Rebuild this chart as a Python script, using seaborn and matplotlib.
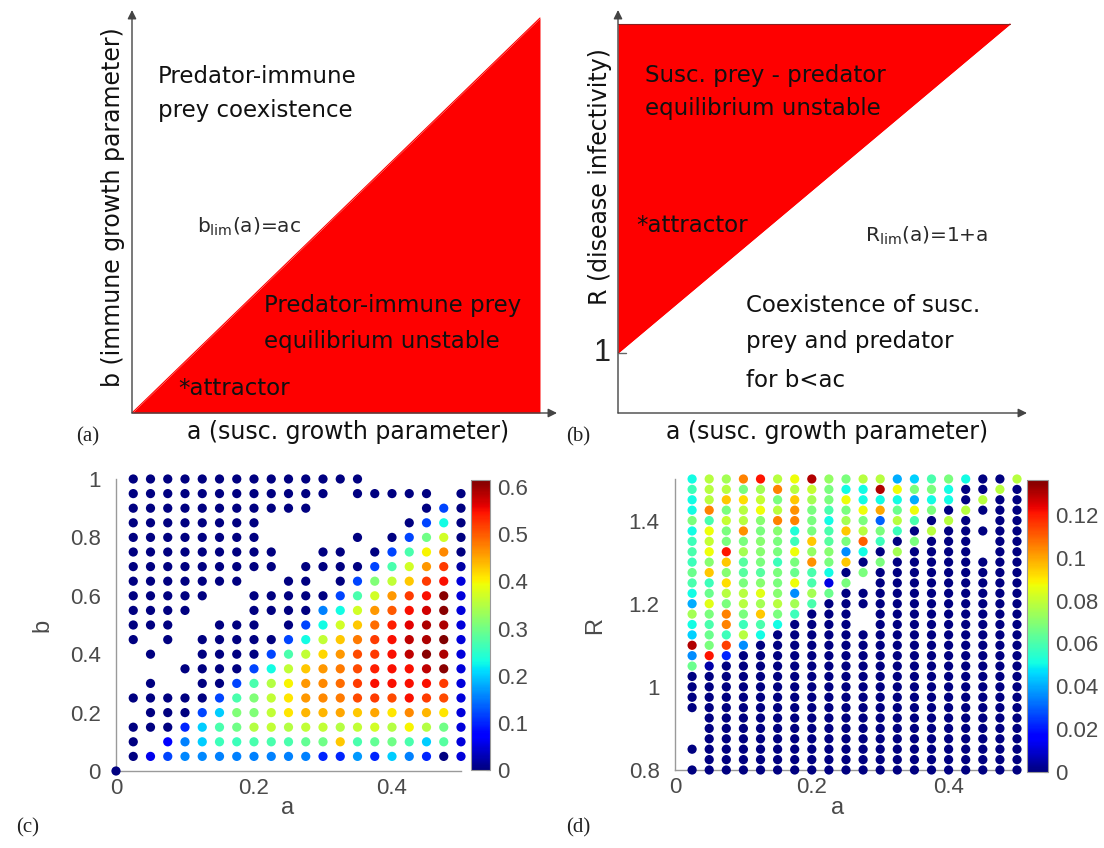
import numpy as np
import pandas as pd
import matplotlib
matplotlib.use("Agg")
import matplotlib.pyplot as plt
from matplotlib.colors import Normalize
from matplotlib.cm import ScalarMappable
from matplotlib.ticker import FuncFormatter
import seaborn as sns

_ = np.nan

# ---------------- schematic panels ----------------
# (a) stability boundary b_lim(a) = a c  (c = 1 in the sketch)
sketch_a = [0.0, 1.0]
sketch_b_lim = [0.0, 1.0]
# (b) stability boundary R_lim(a) = 1 + a, unstable region up to R = 2
sketch_R_lim = [1.0, 2.0]
sketch_R_top = [2.0, 2.0]

# ---------------- (c) immune prey density over (a, b) ----------------
scan_a = [0.025, 0.05, 0.075, 0.1, 0.125, 0.15, 0.175, 0.2, 0.225, 0.25,
          0.275, 0.3, 0.325, 0.35, 0.375, 0.4, 0.425, 0.45, 0.475, 0.5]
c_b = [1.0, 0.95, 0.9, 0.85, 0.8, 0.75, 0.7, 0.65, 0.6, 0.55,
       0.5, 0.45, 0.4, 0.35, 0.3, 0.25, 0.2, 0.15, 0.1, 0.05]
c_val = [
    [0, 0, 0, 0, 0, 0, 0, 0, 0, 0, 0, 0, 0, 0, _, _, _, _, _, _],
    [0, 0, 0, 0, 0, 0, 0, 0, 0, 0, 0, 0, _, 0, 0, 0, 0, 0, _, 0],
    [0, 0, 0, 0, 0, 0, 0, 0, 0, 0, 0, _, _, _, _, _, _, 0, .12, 0],
    [0, 0, 0, 0, 0, 0, 0, 0, _, _, _, _, _, _, _, _, 0, .12, .23, 0],
    [0, 0, 0, 0, 0, 0, 0, 0, _, _, _, _, _, 0, _, 0, .12, .30, .37, 0],
    [0, 0, 0, 0, 0, 0, 0, 0, 0, _, _, 0, 0, _, 0, .12, .27, .40, .47, 0],
    [0, 0, 0, 0, 0, 0, 0, 0, 0, _, 0, 0, 0, 0, .12, .27, .37, .46, .52, .02],
    [0, 0, 0, 0, 0, 0, 0, _, _, 0, 0, _, 0, .12, .31, .36, .43, .52, .55, .05],
    [0, 0, 0, 0, 0, _, _, 0, 0, 0, 0, 0, .12, .27, .37, .46, .52, .55, .61, .05],
    [0, 0, 0, 0, _, _, _, 0, 0, 0, 0, .155, .23, .37, .46, .50, .55, .57, .61, .05],
    [0, 0, 0, _, _, 0, 0, 0, _, 0, .12, .23, .37, .43, .49, .54, .56, .59, .59, .05],
    [0, _, 0, _, 0, 0, 0, 0, 0, .12, .23, .36, .43, .48, .52, .55, .58, .59, .62, .05],
    [_, 0, _, _, 0, 0, 0, 0, .12, .27, .36, .42, .46, .51, .52, .55, .58, .61, .59, .05],
    [_, _, _, 0, 0, 0, 0, .12, .23, .36, .43, .46, .48, .51, .54, .55, .55, .58, .61, .05],
    [_, 0, _, _, 0, 0, .12, .27, .35, .40, .46, .47, .49, .52, .55, .55, .55, .55, .52, .05],
    [0, 0, 0, 0, 0, .12, .27, .31, .36, .41, .46, .47, .48, .51, .52, .51, .55, .52, .51, .05],
    [_, 0, 0, 0, .12, .20, .31, .31, .36, .41, .44, .44, .45, .43, .45, .41, .47, .44, .41, .05],
    [0, 0, 0, .10, .20, .27, .30, .35, .36, .35, .36, .36, .35, .36, .37, .35, .40, .35, .30, .05],
    [0, _, .07, .155, .20, .26, .26, .27, .27, .27, .29, .30, .43, .27, .29, .30, .27, .20, .28, .05],
    [0, .06, .12, .16, .16, .155, .155, .155, .155, .155, .155, .10, .10, .17, .10, .20, .155, .10, 0, .05],
]
c_origin_a = [0.0]
c_origin_b = [0.0]
c_origin_val = [0.0]
c_vmax = 0.615
c_xticks = [0, 0.2, 0.4]
c_yticks = [0, 0.2, 0.4, 0.6, 0.8, 1.0]
c_cticks = [0, 0.1, 0.2, 0.3, 0.4, 0.5, 0.6]

# ---------------- (d) susceptible prey density over (a, R) ----------------
d_R = [1.5, 1.475, 1.45, 1.425, 1.4, 1.375, 1.35, 1.325, 1.3, 1.275,
       1.25, 1.225, 1.2, 1.175, 1.15, 1.125, 1.1, 1.075, 1.05, 1.025,
       1.0, 0.975, 0.95, 0.925, 0.9, 0.875, 0.85, 0.825, 0.8]
d_val = [
    [.051, .078, .075, .105, .121, .078, .087, .130, .072, .068, .078, .078, .040, .045, .060, .068, .051, 0, 0, .078],
    [.058, .078, .078, .068, .075, .105, .078, .080, .068, .051, .051, .130, .087, .068, .068, .051, 0, 0, .078, 0],
    [.051, .078, .095, .092, .080, .068, .095, .075, .068, .087, .051, .051, .051, .040, .051, .051, 0, .078, 0, 0],
    [.051, .105, .068, .078, .087, .078, .103, .068, .060, .068, .087, .100, .065, .087, .068, 0, .078, 0, 0, 0],
    [.068, .060, .080, .078, .070, .105, .105, .068, .051, .075, .068, .030, .078, .060, 0, .078, 0, _, 0, 0],
    [.051, .087, .068, .103, .068, .070, .053, .068, .060, .095, .078, .068, .058, 0, .078, 0, 0, 0, 0, 0],
    [.058, .080, .068, .068, .070, .068, .058, .095, .062, .068, .110, .058, 0, .068, 0, 0, 0, _, 0, 0],
    [.060, .087, .121, .075, .070, .068, .087, .072, .070, .036, .051, 0, .075, 0, 0, 0, 0, _, 0, 0],
    [.058, .070, .095, .062, .068, .058, .068, .103, .068, .095, 0, .068, 0, 0, 0, 0, 0, 0, 0, 0],
    [.065, .095, .070, .062, .062, .068, .065, .060, .051, 0, .068, 0, 0, 0, 0, 0, 0, 0, 0, 0],
    [.060, .058, .092, .068, .070, .068, .087, .060, .012, .068, _, 0, 0, 0, 0, 0, 0, 0, 0, 0],
    [.051, .065, .078, .078, .085, .070, .036, .075, .065, 0, 0, 0, 0, 0, 0, 0, 0, 0, 0, 0],
    [.040, .085, .068, .078, .075, .078, .075, .060, 0, 0, 0, 0, 0, 0, 0, 0, 0, 0, 0, 0],
    [.075, .068, .105, .068, .095, .068, .058, 0, 0, 0, _, 0, 0, 0, 0, 0, 0, 0, 0, 0],
    [.051, .060, .105, .058, .060, .051, 0, 0, 0, 0, _, 0, 0, 0, 0, 0, 0, 0, 0, 0],
    [.045, .065, .058, .078, .051, 0, 0, 0, 0, 0, 0, 0, 0, 0, 0, 0, 0, 0, 0, 0],
    [.130, .068, .115, .036, 0, 0, 0, 0, 0, 0, 0, 0, 0, 0, 0, 0, 0, 0, 0, 0],
    [.036, .121, .022, 0, 0, 0, 0, 0, 0, 0, 0, 0, 0, 0, 0, 0, 0, 0, 0, 0],
    [.065, .005, 0, 0, 0, 0, 0, 0, 0, 0, 0, 0, 0, 0, 0, 0, 0, 0, 0, 0],
    [0, 0, 0, 0, 0, 0, 0, 0, 0, 0, 0, 0, 0, 0, 0, 0, 0, 0, 0, 0],
    [0, 0, 0, 0, 0, 0, 0, 0, 0, 0, 0, 0, 0, 0, 0, 0, 0, 0, 0, 0],
    [0, 0, 0, 0, 0, 0, 0, 0, 0, 0, 0, 0, 0, 0, 0, 0, 0, 0, 0, 0],
    [0, 0, 0, 0, 0, 0, 0, 0, 0, 0, 0, 0, 0, 0, 0, 0, 0, 0, 0, 0],
    [_, 0, 0, 0, 0, 0, 0, 0, 0, 0, 0, 0, 0, 0, 0, 0, 0, 0, 0, 0],
    [_, 0, 0, 0, 0, 0, 0, 0, 0, 0, 0, 0, 0, 0, 0, 0, 0, 0, 0, 0],
    [_, 0, 0, 0, 0, 0, 0, 0, 0, 0, 0, 0, 0, 0, 0, 0, 0, 0, 0, 0],
    [0, 0, 0, 0, 0, 0, 0, 0, 0, 0, 0, 0, 0, 0, 0, 0, 0, 0, 0, 0],
    [_, 0, 0, 0, 0, 0, 0, 0, 0, 0, 0, 0, 0, 0, 0, 0, 0, 0, 0, 0],
    [0, 0, 0, 0, 0, 0, 0, 0, 0, 0, 0, 0, 0, 0, 0, 0, 0, 0, 0, 0],
]
d_vmax = 0.1363
d_xticks = [0, 0.2, 0.4]
d_yticks = [0.8, 1.0, 1.2, 1.4]
d_cticks = [0, 0.02, 0.04, 0.06, 0.08, 0.1, 0.12]

JET = matplotlib.colormaps["jet"]


def grid_frame(xs, ys, vals, yname):
    recs = []
    for y, row in zip(ys, vals):
        for x, v in zip(xs, row):
            if not np.isnan(v):
                recs.append((x, y, v))
    return pd.DataFrame(recs, columns=["a", yname, "val"])


df_c = grid_frame(scan_a, c_b, c_val, "b")
df_c = pd.concat([df_c, pd.DataFrame({"a": c_origin_a, "b": c_origin_b, "val": c_origin_val})],
                 ignore_index=True)
df_d = grid_frame(scan_a, d_R, d_val, "R")

# ---------------- style ----------------
sns.set_style("white")
plt.rcParams["font.family"] = ["Liberation Sans", "DejaVu Sans"]
plt.rcParams["mathtext.fontset"] = "dejavusans"
plt.rcParams["mathtext.default"] = "regular"

W, H = 1104, 848
fig = plt.figure(figsize=(W / 100, H / 100), dpi=100)


def px_axes(x0, y_top, x1, y_bot):
    return fig.add_axes([x0 / W, 1 - y_bot / H, (x1 - x0) / W, (y_bot - y_top) / H])


RED = "#fe0000"
SK = dict(family="DejaVu Sans", color="#111111")
AX_GRAY = "#9a9a9a"
LAB_GRAY = "#4a4a4a"


def arrow(ax, x0, y0, x1, y1):
    ax.annotate("", xy=(x1, y1), xytext=(x0, y0), annotation_clip=False,
                arrowprops=dict(arrowstyle="-|>", color="#444444", lw=1.0,
                                mutation_scale=13, shrinkA=0, shrinkB=0))


# ---------------- (a) ----------------
ax_a = px_axes(132, 10, 557, 413)
ax_a.set_xlim(0, 1.0417)
ax_a.set_ylim(0, 1.0203)
ax_a.axis("off")
ax_a.fill_between(sketch_a, sketch_b_lim, 0, color=RED, lw=0, zorder=2)
sns.lineplot(x=sketch_a, y=sketch_b_lim, ax=ax_a, color=RED, lw=0.8, zorder=3)
arrow(ax_a, 0, 0, 1.0417, 0)
arrow(ax_a, 0, 0, 0, 1.0203)
ax_a.text(0.064, 0.835, "Predator-immune", fontsize=16.5, **SK)
ax_a.text(0.064, 0.749, "prey coexistence", fontsize=16.5, **SK)
ax_a.text(0.159, 0.456, r"b$_{\mathregular{lim}}$(a)=ac", fontsize=14.5,
          family="DejaVu Sans", color="#2a2a2a")
ax_a.text(0.324, 0.256, "Predator-immune prey", fontsize=16.5, **SK)
ax_a.text(0.324, 0.165, "equilibrium unstable", fontsize=16.5, **SK)
ax_a.text(0.113, 0.046, "*attractor", fontsize=16.5, **SK)
ax_a.text(0.529, -0.048, "a (susc. growth parameter)", fontsize=17,
          ha="center", va="center", **SK)
ax_a.text(-0.047, 0.52, "b (immune growth parameter)", fontsize=17,
          rotation=90, ha="center", va="center", **SK)

# ---------------- (b) ----------------
ax_b = px_axes(618, 10, 1027, 413)
ax_b.set_xlim(0, 1.0434)
ax_b.set_ylim(0.8176, 2.0426)
ax_b.axis("off")
ax_b.fill_between(sketch_a, sketch_R_lim, sketch_R_top, color=RED, lw=0, zorder=2)
sns.lineplot(x=sketch_a, y=sketch_R_lim, ax=ax_b, color=RED, lw=0.8, zorder=3)
sns.lineplot(x=sketch_a, y=sketch_R_top, ax=ax_b, color="#8a2020", lw=0.8, zorder=3)
arrow(ax_b, 0, 0.8176, 1.0434, 0.8176)
arrow(ax_b, 0, 0.8176, 0, 2.0426)
ax_b.plot([0, 0.02], [1.0, 1.0], color="#666666", lw=1.0, zorder=4)
ax_b.text(-0.02, 1.0, "1", fontsize=22, ha="right", va="center",
          family="Liberation Sans", color="#222222")
ax_b.text(0.069, 1.824, "Susc. prey - predator", fontsize=16.5, **SK)
ax_b.text(0.069, 1.723, "equilibrium unstable", fontsize=16.5, **SK)
ax_b.text(0.046, 1.368, "*attractor", fontsize=16.5, **SK)
ax_b.text(0.630, 1.337, r"R$_{\mathregular{lim}}$(a)=1+a", fontsize=14.5,
          family="DejaVu Sans", color="#2a2a2a")
ax_b.text(0.3265, 1.1246, "Coexistence of susc.", fontsize=16.5, **SK)
ax_b.text(0.3265, 1.0152, "prey and predator", fontsize=16.5, **SK)
ax_b.text(0.3265, 0.8967, "for b<ac", fontsize=16.5, **SK)
ax_b.text(0.533, 0.760, "a (susc. growth parameter)", fontsize=17,
          ha="center", va="center", **SK)
ax_b.text(-0.046, 1.535, "R (disease infectivity)", fontsize=17,
          rotation=90, ha="center", va="center", **SK)


# ---------------- scatter panels ----------------
def style_scan(ax, xticks, yticks):
    ax.set_xticks(xticks)
    ax.set_yticks(yticks)
    fmt = FuncFormatter(lambda v, p: f"{v:g}")
    ax.xaxis.set_major_formatter(fmt)
    ax.yaxis.set_major_formatter(fmt)
    sns.despine(ax=ax)
    for s in ("left", "bottom"):
        ax.spines[s].set_color(AX_GRAY)
        ax.spines[s].set_linewidth(1.0)
    ax.tick_params(direction="in", length=4, width=0.8, color=AX_GRAY,
                   labelcolor=LAB_GRAY, labelsize=16)
    ax.tick_params(axis="y", pad=11)
    ax.tick_params(axis="x", pad=5)
    ax.set_xlabel("")
    ax.set_ylabel("")
    ax.set_facecolor("none")


def add_cbar(cax, vmax, ticks):
    sm = ScalarMappable(norm=Normalize(0, vmax), cmap=JET)
    cb = fig.colorbar(sm, cax=cax, ticks=ticks)
    cb.outline.set_edgecolor(AX_GRAY)
    cb.outline.set_linewidth(0.8)
    cax.yaxis.set_major_formatter(FuncFormatter(lambda v, p: f"{v:g}"))
    cax.tick_params(direction="in", length=3, width=0.8, color="#666666",
                    labelcolor=LAB_GRAY, labelsize=16, pad=5)
    return cb


ax_c = px_axes(116, 479, 461, 771)
sns.scatterplot(data=df_c, x="a", y="b", hue="val", palette=JET,
                hue_norm=(0, c_vmax), s=44, linewidth=0, legend=False,
                ax=ax_c, clip_on=False, zorder=3)
ax_c.set_xlim(0, 0.5)
ax_c.set_ylim(0, 1)
style_scan(ax_c, c_xticks, c_yticks)
ax_c.text(0.4986, -0.127, "a", transform=ax_c.transAxes, fontsize=17,
          ha="center", va="center", color=LAB_GRAY)
ax_c.text(-0.214, 0.5, "b", transform=ax_c.transAxes, fontsize=17,
          rotation=90, ha="center", va="center", color=LAB_GRAY)
cax_c = px_axes(471, 480, 490, 770)
add_cbar(cax_c, c_vmax, c_cticks)

ax_d = px_axes(675, 479, 1017, 770)
sns.scatterplot(data=df_d, x="a", y="R", hue="val", palette=JET,
                hue_norm=(0, d_vmax), s=44, linewidth=0, legend=False,
                ax=ax_d, clip_on=False, zorder=3)
ax_d.set_xlim(0, 0.5)
ax_d.set_ylim(0.8, 1.5)
style_scan(ax_d, d_xticks, d_yticks)
ax_d.text(0.4766, -0.1306, "a", transform=ax_d.transAxes, fontsize=17,
          ha="center", va="center", color=LAB_GRAY)
ax_d.text(-0.234, 0.498, "R", transform=ax_d.transAxes, fontsize=17,
          rotation=90, ha="center", va="center", color=LAB_GRAY)
cax_d = px_axes(1027, 480, 1048, 772)
add_cbar(cax_d, d_vmax, d_cticks)

# ---------------- panel letters ----------------
for lbl, (px, py) in {"(a)": (88, 437), "(b)": (578, 437),
                      "(c)": (28, 828), "(d)": (578, 828)}.items():
    fig.text(px / W, 1 - py / H, lbl, fontsize=15, family="Liberation Serif",
             ha="center", va="center", color="#222222")

fig.savefig("out.png", dpi=100)
